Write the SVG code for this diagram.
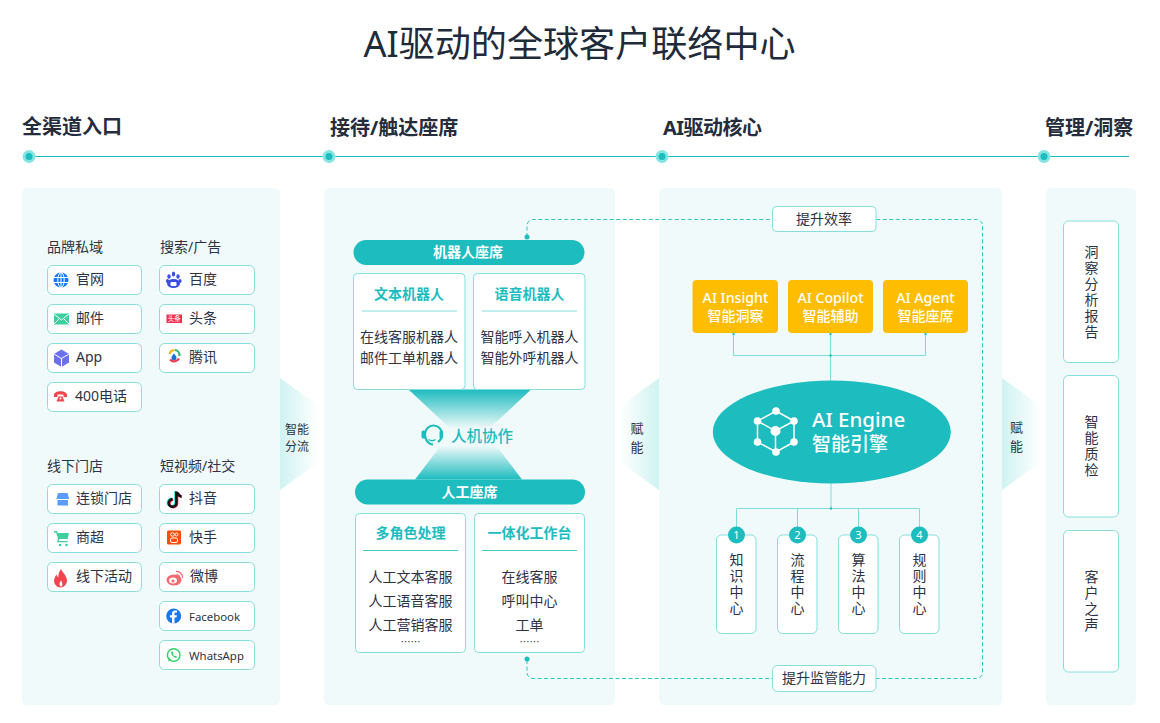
<svg xmlns="http://www.w3.org/2000/svg" width="1160" height="723" viewBox="0 0 1160 723">
<style>
text{font-family:"Noto Sans","Noto Sans CJK SC",sans-serif;dominant-baseline:central;fill:#2d3345;transform:translateY(-2px)}
.m{text-anchor:middle}
.title{font-size:36.1px;fill:#1f2a3a}
.hd{font-size:20px;font-weight:700;fill:#252c3c}
.lb{font-size:14px}
.it{font-size:14px}
.panel{fill:#f0fafa}
.box{fill:#fff;stroke:#86dedd;stroke-width:1}
.pill{fill:#1dbcbf}
.wb{fill:#fff;font-weight:700;font-size:14px}
.tt{fill:#1dbcbf;font-size:14px;font-weight:700}
.dv{stroke:#86dedd;stroke-width:1;fill:none}
.amber{fill:#ffbd00}
.aw{fill:#fff;font-size:14.2px;font-weight:500}
.az{fill:#fff;font-size:14px;font-weight:500}
.cn{stroke:#7fdcdc;stroke-width:1;fill:none}
.dash{stroke:#2cc8c8;stroke-width:1;stroke-dasharray:4 2.5;fill:none}
.dot{fill:#1dbcbf}
.sm{font-size:11.4px}
.ar{font-size:12px}
.num{font-size:11px;fill:#fff}
.el{font-size:10px;font-family:"Noto Sans CJK SC",sans-serif}
.v{font-size:14px;writing-mode:vertical-rl;text-orientation:upright;letter-spacing:2px;transform:none;dominant-baseline:auto}
.v2{font-size:13px;writing-mode:vertical-rl;text-orientation:upright;letter-spacing:6px;transform:none;dominant-baseline:auto}
</style>
<defs>
<linearGradient id="toR" x1="0" x2="1" y1="0" y2="0"><stop offset="0" stop-color="#cff3f1"/><stop offset="1" stop-color="#fff"/></linearGradient>
<linearGradient id="toL" x1="1" x2="0" y1="0" y2="0"><stop offset="0" stop-color="#cff3f1"/><stop offset="1" stop-color="#fff"/></linearGradient>
<linearGradient id="hgT" x1="0" x2="0" y1="0" y2="1"><stop offset="0" stop-color="#1dbcbf"/><stop offset=".68" stop-color="#1dbcbf" stop-opacity="0"/></linearGradient>
<linearGradient id="hgB" x1="0" x2="0" y1="1" y2="0"><stop offset="0" stop-color="#1dbcbf"/><stop offset=".48" stop-color="#1dbcbf" stop-opacity="0"/></linearGradient>
</defs>
<rect width="1160" height="723" fill="#fff"/>
<text id="title" class="title m" x="579.500" y="45">AI驱动的全球客户联络中心</text>

<g id="timeline">
<line x1="29" y1="156.500" x2="1129" y2="156.500" stroke="#1dbcbf" stroke-width="1"/>
<g fill="#86e4e1"><circle cx="29" cy="156.500" r="6.500"/><circle cx="329" cy="156.500" r="6.500"/><circle cx="662" cy="156.500" r="6.500"/><circle cx="1044" cy="156.500" r="6.500"/></g>
<g fill="#1dbcbf"><circle cx="29" cy="156.500" r="3.500"/><circle cx="329" cy="156.500" r="3.500"/><circle cx="662" cy="156.500" r="3.500"/><circle cx="1044" cy="156.500" r="3.500"/></g>
<text class="hd" x="22" y="128.500">全渠道入口</text>
<text class="hd" x="330" y="129">接待/触达座席</text>
<text class="hd" x="663" y="129" textLength="99">AI驱动核心</text>
<text class="hd" x="1045" y="129">管理/洞察</text>
</g>

<g id="panels">
<rect class="panel" x="22" y="188" width="258" height="517" rx="5"/>
<rect class="panel" x="324" y="188" width="291" height="517" rx="5"/>
<rect class="panel" x="659" y="188" width="343" height="517" rx="5"/>
<rect class="panel" x="1046" y="188" width="90" height="517" rx="5"/>
</g>

<g id="arrow-flow"><path d="M280 378L319 406V462L280 490Z" fill="url(#toR)"/><text class="ar m" x="297" y="431">智能</text><text class="ar m" x="297" y="448">分流</text></g>
<g id="arrow-empower-1"><path d="M659 378L620 406V462L659 490Z" fill="url(#toL)"/><text class="v2" x="636.500" y="421.500">赋能</text></g>
<g id="arrow-empower-2"><path d="M1002 378L1041 406V462L1002 490Z" fill="url(#toR)"/><text class="v2" x="1016" y="420.500">赋能</text></g>

<g id="entry-brand">
<text class="lb" x="47" y="248">品牌私域</text>
<rect class="box" x="47.500" y="265.500" width="94" height="29" rx="5"/>
<rect class="box" x="47.500" y="304.500" width="94" height="29" rx="5"/>
<rect class="box" x="47.500" y="343.500" width="94" height="29" rx="5"/>
<rect class="box" x="47.500" y="382.500" width="94" height="29" rx="5"/>
<g><circle cx="61" cy="280" r="7.500" fill="#1677ff"/><g stroke="#fff" stroke-width="1" fill="none"><ellipse cx="61" cy="280" rx="3.200" ry="7.500"/><path d="M53.500 277.500H68.500M53.500 282.500H68.500M61 272.500V287.500"/></g></g>
<text class="it" x="76" y="280">官网</text>
<g><rect x="54" y="313.500" width="15" height="11" fill="#3ecfa0"/><path d="M54 314L61.500 320L69 314M54 324L59.500 318.500M69 324L63.500 318.500" stroke="#fff" fill="none" stroke-width="1"/></g>
<text class="it" x="76" y="319">邮件</text>
<g><path d="M61.500 349.500L69 354V362.500L61.500 367L54 362.500V354Z" fill="#6a70ee"/><path d="M54 354L61.500 358.500L69 354M61.500 358.500V367" stroke="#fff" stroke-width="1" fill="none"/></g>
<text class="it" x="76" y="358">App</text>
<g fill="#f0474f"><path d="M54 395c0-5 13-5 13 0v2h-3.500v-2.500h-6v2.500H54z"/><path d="M56.500 401.500l2-5h4l2 5z"/><circle cx="60.500" cy="398.500" r="1" fill="#fff"/></g>
<text class="it" x="75" y="397">400电话</text>
</g>

<g id="entry-search">
<text class="lb" x="160" y="248">搜索/广告</text>
<rect class="box" x="159.500" y="265.500" width="95" height="29" rx="5"/>
<rect class="box" x="159.500" y="304.500" width="95" height="29" rx="5"/>
<rect class="box" x="159.500" y="343.500" width="95" height="29" rx="5"/>
<g fill="#3a4ee0"><ellipse cx="169" cy="276.500" rx="1.700" ry="2.300"/><ellipse cx="173.500" cy="274" rx="1.700" ry="2.500"/><ellipse cx="178" cy="276.500" rx="1.700" ry="2.300"/><ellipse cx="167.500" cy="281" rx="1.600" ry="2"/><ellipse cx="180" cy="281" rx="1.600" ry="2"/><ellipse cx="173.500" cy="283.500" rx="6.500" ry="4.500"/></g>
<rect x="170.500" y="282" width="6" height="4" fill="#fff" rx="1"/>
<text class="it" x="189" y="280">百度</text>
<rect x="166.500" y="314.500" width="15.500" height="8.500" fill="#ee2f4d"/>
<text class="m" x="174.300" y="320.700" style="font-size:6.500px;fill:#fff">头条</text>
<text class="it" x="189" y="319">头条</text>
<g fill="none" stroke-width="2.200"><path d="M169.500 354a5.500 5.500 0 0 1 5-4" stroke="#f5b60f"/><path d="M175 350a5.500 5.500 0 0 1 4.500 6" stroke="#32b67a"/><path d="M179 358.500a5.500 5.500 0 0 1-9 1" stroke="#ee3a4e"/></g>
<path d="M174 353.500c1.500 2 2.500 3 2.500 4.300a2.500 2.500 0 0 1-5 0c0-1.300 1-2.300 2.500-4.300z" fill="#1670d8"/>
<text class="it" x="189" y="358">腾讯</text>
</g>

<g id="entry-offline">
<text class="lb" x="47" y="467">线下门店</text>
<rect class="box" x="47.500" y="484.500" width="94" height="29" rx="5"/>
<rect class="box" x="47.500" y="523.500" width="94" height="29" rx="5"/>
<rect class="box" x="47.500" y="562.500" width="94" height="29" rx="5"/>
<path d="M58 493h9.500l1.500 5.500v1h-1v6h-10.500v-6h-1v-1z" fill="#5a9dff"/><path d="M56.500 499.500h12.500" stroke="#fff"/>
<text class="it" x="76" y="499">连锁门店</text>
<g fill="#3ecfa0"><path d="M54 531h2.500l1.500 2h11l-1.500 6h-8l-.8 2h9v1.300H57l1.200-3.500L56 532.500H54z"/><circle cx="60" cy="545" r="1.300"/><circle cx="66.500" cy="545" r="1.300"/></g>
<text class="it" x="76" y="538">商超</text>
<path d="M61 569c1 3 6 6.500 6 12a6.500 6.500 0 0 1-13 0c0-3 1.500-5 2.500-6.500c.3 1.500 1 2.300 1.800 2.700c0-3 1-6 2.700-8.200z" fill="#f2454f"/><path d="M60.500 586.500c-1.500-1.500-1.500-3.500.5-6c1.500 2.200 2 4.500.5 6z" fill="#f0fafa"/>
<text class="it" x="76" y="577">线下活动</text>
</g>

<g id="entry-social">
<text class="lb" x="160" y="467">短视频/社交</text>
<rect class="box" x="159.500" y="484.500" width="95" height="29" rx="5"/>
<rect class="box" x="159.500" y="523.500" width="95" height="29" rx="5"/>
<rect class="box" x="159.500" y="562.500" width="95" height="29" rx="5"/>
<rect class="box" x="159.500" y="601.500" width="95" height="29" rx="5"/>
<rect class="box" x="159.500" y="640.500" width="95" height="29" rx="5"/>
<g fill="none" stroke-width="2.600"><path d="M175.500 491v11.500a3.800 3.800 0 1 1-3.800-3.800" stroke="#25e0e6"/><path d="M176.500 492c.5 2 2 3.500 4 4" stroke="#25e0e6"/><path d="M177 492v11.500a3.800 3.800 0 1 1-3.800-3.800" stroke="#f0264f"/><path d="M178 493c.5 2 2 3.500 4 4" stroke="#f0264f"/><path d="M176.300 491.500v11.500a3.800 3.800 0 1 1-3.800-3.800M177.300 492.500c.5 2 2 3.500 4 4" stroke="#111"/></g>
<text class="it" x="189" y="499">抖音</text>
<rect x="167" y="530.500" width="14" height="14" rx="1.500" fill="#ff4d0a"/><g fill="none" stroke="#fff" stroke-width="1"><circle cx="172.500" cy="534.500" r="1.800"/><circle cx="176.500" cy="534.500" r="1.500"/><rect x="170.500" y="538" width="7" height="4.500" rx="1.500"/></g>
<text class="it" x="189" y="538">快手</text>
<g><ellipse cx="174" cy="580" rx="7.500" ry="5.500" fill="#f2696f"/><ellipse cx="173" cy="580.500" rx="4" ry="3" fill="#fff"/><circle cx="173" cy="581" r="1.500" fill="#f2696f"/><path d="M176 571.500a6 6 0 0 1 6.500 6.500M176.500 574.500a3 3 0 0 1 3 3" stroke="#f2696f" stroke-width="1.200" fill="none"/></g>
<text class="it" x="190" y="577">微博</text>
<circle cx="173.700" cy="616" r="7.500" fill="#1877f2"/><path d="M174.500 623.500v-6h2l.4-2.300h-2.400v-1.400c0-.7.300-1.200 1.300-1.200h1.200v-2c-.5-.1-1.200-.2-1.900-.2c-1.900 0-3.100 1.100-3.100 3.100v1.700h-2.100v2.300h2.100v6z" fill="#fff"/>
<text class="sm" x="189" y="618">Facebook</text>
<g><circle cx="173.700" cy="655" r="6.300" fill="none" stroke="#2fd268" stroke-width="1.400"/><path d="M168 661.500l1.200-3.500l2.300 2.300z" fill="#2fd268"/><path d="M171.500 651.500c-1 1.500.5 4 2 5.200c1.300 1 3 1.500 3.700.3l-1.500-1.200l-1 .5c-.8-.5-1.500-1.300-1.800-2.200l.7-.9l-.9-1.700z" fill="#2fd268"/></g>
<text class="sm" x="189" y="657">WhatsApp</text>
</g>

<g id="hourglass">
<path d="M408.500 389.500H531L470 447Z" fill="url(#hgT)"/>
<path d="M415 479.500H522L468.500 409Z" fill="url(#hgB)"/>
</g>
<g id="collab">
<g fill="none" stroke="#1dbcbf" stroke-width="2.200"><path d="M425 434a8.500 8.500 0 0 1 17 0"/><path d="M425 434a8.500 9.500 0 0 0 8 10.500"/><path d="M442 434a8.500 9.500 0 0 1-4 8"/></g>
<rect x="421.500" y="430.500" width="3.600" height="8" rx="1.500" fill="#1dbcbf"/><rect x="439.500" y="430.500" width="3.600" height="8" rx="1.500" fill="#1dbcbf"/><path d="M428.500 439.500c2 1.500 5 1.500 7 0" stroke="#1dbcbf" fill="none" stroke-width="1.500"/>
<text x="451" y="437.500" style="font-size:15.500px;font-weight:500;fill:#1dbcbf">人机协作</text>
</g>

<g id="robot-seats">
<rect class="pill" x="353.500" y="240" width="231" height="25" rx="12.500"/>
<text class="wb m" x="468" y="253">机器人座席</text>
</g>
<g id="text-bot">
<rect class="box" x="353.500" y="273.500" width="111.500" height="116" rx="4"/>
<text class="tt m" x="409" y="295">文本机器人</text>
<line class="dv" x1="362" y1="311" x2="457" y2="311"/>
<text class="it m" x="409" y="338">在线客服机器人</text>
<text class="it m" x="409" y="359">邮件工单机器人</text>
</g>
<g id="voice-bot">
<rect class="box" x="473.500" y="273.500" width="111.500" height="116" rx="4"/>
<text class="tt m" x="529.500" y="295">语音机器人</text>
<line class="dv" x1="482" y1="311" x2="577" y2="311"/>
<text class="it m" x="529.500" y="338">智能呼入机器人</text>
<text class="it m" x="529.500" y="359">智能外呼机器人</text>
</g>
<g id="human-seats">
<rect class="pill" x="355" y="479.500" width="230" height="25" rx="12.500"/>
<text class="wb m" x="469.500" y="493">人工座席</text>
</g>
<g id="multi-role">
<rect class="box" x="355.500" y="513.500" width="110" height="139" rx="4"/>
<text class="tt m" x="410.500" y="534">多角色处理</text>
<line class="dv" x1="363" y1="550.500" x2="458" y2="550.500" style="stroke:#3ccdcb"/>
<text class="it m" x="410.500" y="578">人工文本客服</text>
<text class="it m" x="410.500" y="602">人工语音客服</text>
<text class="it m" x="410.500" y="626">人工营销客服</text>
<text class="el m" x="410.500" y="643">……</text>
</g>
<g id="workbench">
<rect class="box" x="474.500" y="513.500" width="110" height="139" rx="4"/>
<text class="tt m" x="529.500" y="534">一体化工作台</text>
<line class="dv" x1="482" y1="550.500" x2="577" y2="550.500" style="stroke:#3ccdcb"/>
<text class="it m" x="529.500" y="578">在线客服</text>
<text class="it m" x="529.500" y="602">呼叫中心</text>
<text class="it m" x="529.500" y="626">工单</text>
<text class="el m" x="529.500" y="643">……</text>
</g>

<g id="connectors">
<path class="dash" d="M527 237V225a6 6 0 0 1 6-5.500H976a6 6 0 0 1 6.500 6V672a6 6 0 0 1-6.500 6.500H533a6 6 0 0 1-6-6V659"/>
<circle class="dot" cx="527" cy="237" r="2.500"/>
<circle class="dot" cx="527" cy="659" r="2.500"/>
<path class="cn" d="M733.500 333V355.500H925.500V333M830.500 333V381"/>
<path class="cn" d="M831 483V508.500M736.500 535V508.500H919.500V535M797.500 508.500V535M858.500 508.500V535"/>
<g class="dot"><circle cx="733.500" cy="334" r="1.200"/><circle cx="830.500" cy="334" r="1.200"/><circle cx="925.500" cy="334" r="1.200"/><circle cx="830.500" cy="355.500" r="1.200"/><circle cx="831" cy="508.500" r="1.200"/></g>
</g>

<g id="efficiency"><rect class="box" x="772.500" y="206.500" width="103.500" height="25" rx="4"/><text class="it m" x="824" y="220">提升效率</text></g>
<g id="supervision"><rect class="box" x="772.500" y="665.500" width="103.500" height="26" rx="5"/><text class="it m" x="824" y="679">提升监管能力</text></g>

<g id="ai-insight"><rect class="amber" x="692.500" y="280" width="85.500" height="53" rx="4"/><text class="aw m" x="735.500" y="299">AI Insight</text><text class="az m" x="735.500" y="317">智能洞察</text></g>
<g id="ai-copilot"><rect class="amber" x="788" y="280" width="85" height="53" rx="4"/><text class="aw m" x="830.500" y="299">AI Copilot</text><text class="az m" x="830.500" y="317">智能辅助</text></g>
<g id="ai-agent"><rect class="amber" x="883" y="280" width="85" height="53" rx="4"/><text class="aw m" x="925.500" y="299">AI Agent</text><text class="az m" x="925.500" y="317">智能座席</text></g>

<g id="ai-engine">
<ellipse cx="831.800" cy="432" rx="119" ry="51.500" fill="#1dbcbf"/>
<g stroke="#fff" stroke-width="1.500" fill="none"><path d="M776 411L794 421V442L776 452L757.500 442V421Z"/><path d="M757.500 421L775.500 431L794 421M775.500 431V452"/></g>
<g fill="#fff"><circle cx="776" cy="411" r="3.800"/><circle cx="794" cy="421" r="3.800"/><circle cx="794" cy="442" r="3.800"/><circle cx="776" cy="452" r="3.800"/><circle cx="757.500" cy="442" r="3.800"/><circle cx="757.500" cy="421" r="3.800"/><circle cx="775.500" cy="431" r="5"/></g>
<text x="812" y="421" style="font-size:20.500px;font-weight:500;fill:#fff">AI Engine</text>
<text x="812" y="446" style="font-size:19px;font-weight:500;fill:#fff">智能引擎</text>
</g>

<g id="knowledge"><rect class="box" x="716.500" y="535" width="39.500" height="98.500" rx="5"/><circle class="dot" cx="736.500" cy="535" r="8.500"/><text class="num m" x="736.500" y="536.500">1</text><text class="v" x="736" y="553">知识中心</text></g>
<g id="process"><rect class="box" x="777.500" y="535" width="39.500" height="98.500" rx="5"/><circle class="dot" cx="797.500" cy="535" r="8.500"/><text class="num m" x="797.500" y="536.500">2</text><text class="v" x="797" y="553">流程中心</text></g>
<g id="algorithm"><rect class="box" x="838.500" y="535" width="39.500" height="98.500" rx="5"/><circle class="dot" cx="858.500" cy="535" r="8.500"/><text class="num m" x="858.500" y="536.500">3</text><text class="v" x="858" y="553">算法中心</text></g>
<g id="rules"><rect class="box" x="899.500" y="535" width="39.500" height="98.500" rx="5"/><circle class="dot" cx="919.500" cy="535" r="8.500"/><text class="num m" x="919.500" y="536.500">4</text><text class="v" x="919" y="553">规则中心</text></g>

<g id="insight-report"><rect class="box" x="1063.500" y="221" width="55" height="141.500" rx="5"/><text class="v" x="1091" y="245">洞察分析报告</text></g>
<g id="quality"><rect class="box" x="1063.500" y="375.500" width="55" height="141.500" rx="5"/><text class="v" x="1091" y="415">智能质检</text></g>
<g id="voice-of-customer"><rect class="box" x="1063.500" y="530.500" width="55" height="141.500" rx="5"/><text class="v" x="1091" y="569.500">客户之声</text></g>
</svg>
